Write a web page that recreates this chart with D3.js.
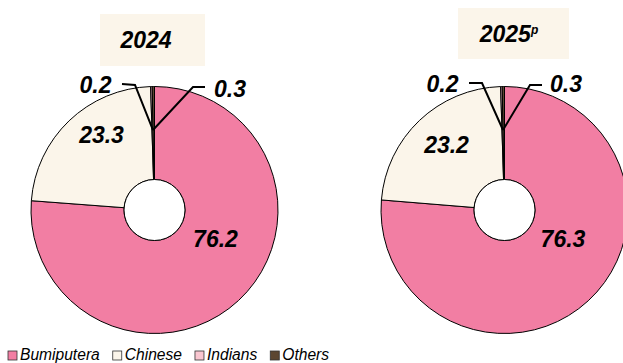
<!DOCTYPE html>
<html>
<meta charset="utf-8">
<head>
	<script src="https://d3js.org/d3.v7.min.js"></script>
	<style>
		body { margin: 0; background: #fff; }
		svg { font-family: Arial, "Liberation Sans", sans-serif; }
		.lbl { font-size: 23px; font-weight: bold; font-style: italic; fill: #000; }
		.legend text { font-size: 15.6px; font-style: italic; fill: #000; }
		.slice { stroke: #000; stroke-width: 1px; }
		.leader { fill: none; stroke: #000; stroke-width: 2px; }
	</style>
</head>
<body>
<script>
	// data
	var groups = ["Bumiputera", "Chinese", "Indians", "Others"];
	var years = ["2024", "2025"];
	var yearNotes = ["", "p"];
	var share2024 = [76.2, 23.3, 0.2, 0.3];
	var share2025 = [76.3, 23.2, 0.2, 0.3];
	var colours = ["#F27EA3", "#FBF5EA", "#F9C6D0", "#5C4631"];

	var width = 623, height = 363;
	var outerR = 123.5, innerR = 30.5;

	// layout of each donut (centre, title box, label offsets from centre)
	var layout = [
		{ cx: 154.5, cy: 210, box: [100, 14, 105, 52], titleX: 146, titleY: 48,
		  labels: [[61, 37], [-53, -67], [-59, -117], [75.5, -113]],
		  leaders: [null, null, [[-19.5, -125], [-32.5, -126]], [[38.5, -123], [50.5, -123]]] },
		{ cx: 504.5, cy: 210, box: [458, 8, 111, 51], titleX: 509, titleY: 42,
		  labels: [[58.5, 37], [-58, -57], [-62, -118], [61.5, -118]],
		  leaders: [null, null, [[-22.5, -127], [-35.5, -127]], [[25.5, -125], [37.5, -125]]] }
	];
	var shares = [share2024, share2025];

	var colour = d3.scaleOrdinal().domain(groups).range(colours);
	var pie = d3.pie().sort(null).value(function(d) { return d; });
	var arc = d3.arc().innerRadius(innerR).outerRadius(outerR);

	var svg = d3.select("body").append("svg")
		.attr("width", width)
		.attr("height", height);

	years.forEach(function(year, k) {
		var L = layout[k];
		var arcs = pie(shares[k]);

		// title box
		svg.append("rect")
			.attr("x", L.box[0]).attr("y", L.box[1])
			.attr("width", L.box[2]).attr("height", L.box[3])
			.attr("fill", "#FBF5EA");
		var t = svg.append("text")
			.attr("class", "lbl")
			.attr("x", L.titleX)
			.attr("y", L.titleY)
			.attr("text-anchor", "middle");
		t.append("tspan").text(year);
		if (yearNotes[k]) {
			t.append("tspan").text(yearNotes[k])
				.attr("font-size", "12px")
				.attr("dy", -8);
		}

		var g = svg.append("g")
			.attr("transform", "translate(" + L.cx + "," + L.cy + ")");

		g.selectAll("path.slice")
			.data(arcs).enter()
			.append("path")
			.attr("class", "slice")
			.attr("d", arc)
			.attr("fill", function(d, i) { return colour(groups[i]); });

		// white hole outline
		g.append("circle")
			.attr("r", innerR)
			.attr("fill", "#fff")
			.attr("stroke", "#000")
			.attr("stroke-width", 1);

		// leader lines for the tiny slices start where they meet
		var a = arcs[2].endAngle;
		var start = [Math.sin(a) * 80, -Math.cos(a) * 80];
		L.leaders.forEach(function(ld) {
			if (!ld) return;
			g.append("path")
				.attr("class", "leader")
				.attr("d", d3.line()([start, ld[0], ld[1]]));
		});

		g.selectAll("text.val")
			.data(arcs).enter()
			.append("text")
			.attr("class", "lbl val")
			.attr("text-anchor", "middle")
			.attr("x", function(d, i) { return L.labels[i][0]; })
			.attr("y", function(d, i) { return L.labels[i][1]; })
			.text(function(d) { return d3.format(".1f")(d.data); });
	});

	// legend
	var leg = svg.append("g").attr("class", "legend");
	var lx = 8;
	groups.forEach(function(name) {
		var it = leg.append("g").attr("transform", "translate(" + lx + ",0)");
		it.append("rect")
			.attr("x", 0).attr("y", 351)
			.attr("width", 9).attr("height", 9)
			.attr("fill", colour(name))
			.attr("stroke", "#333")
			.attr("stroke-width", 0.8);
		var tx = it.append("text")
			.attr("x", 12).attr("y", 360)
			.text(name);
		lx += 12 + tx.node().getComputedTextLength() + 13;
	});
</script>
</body>
</html>
